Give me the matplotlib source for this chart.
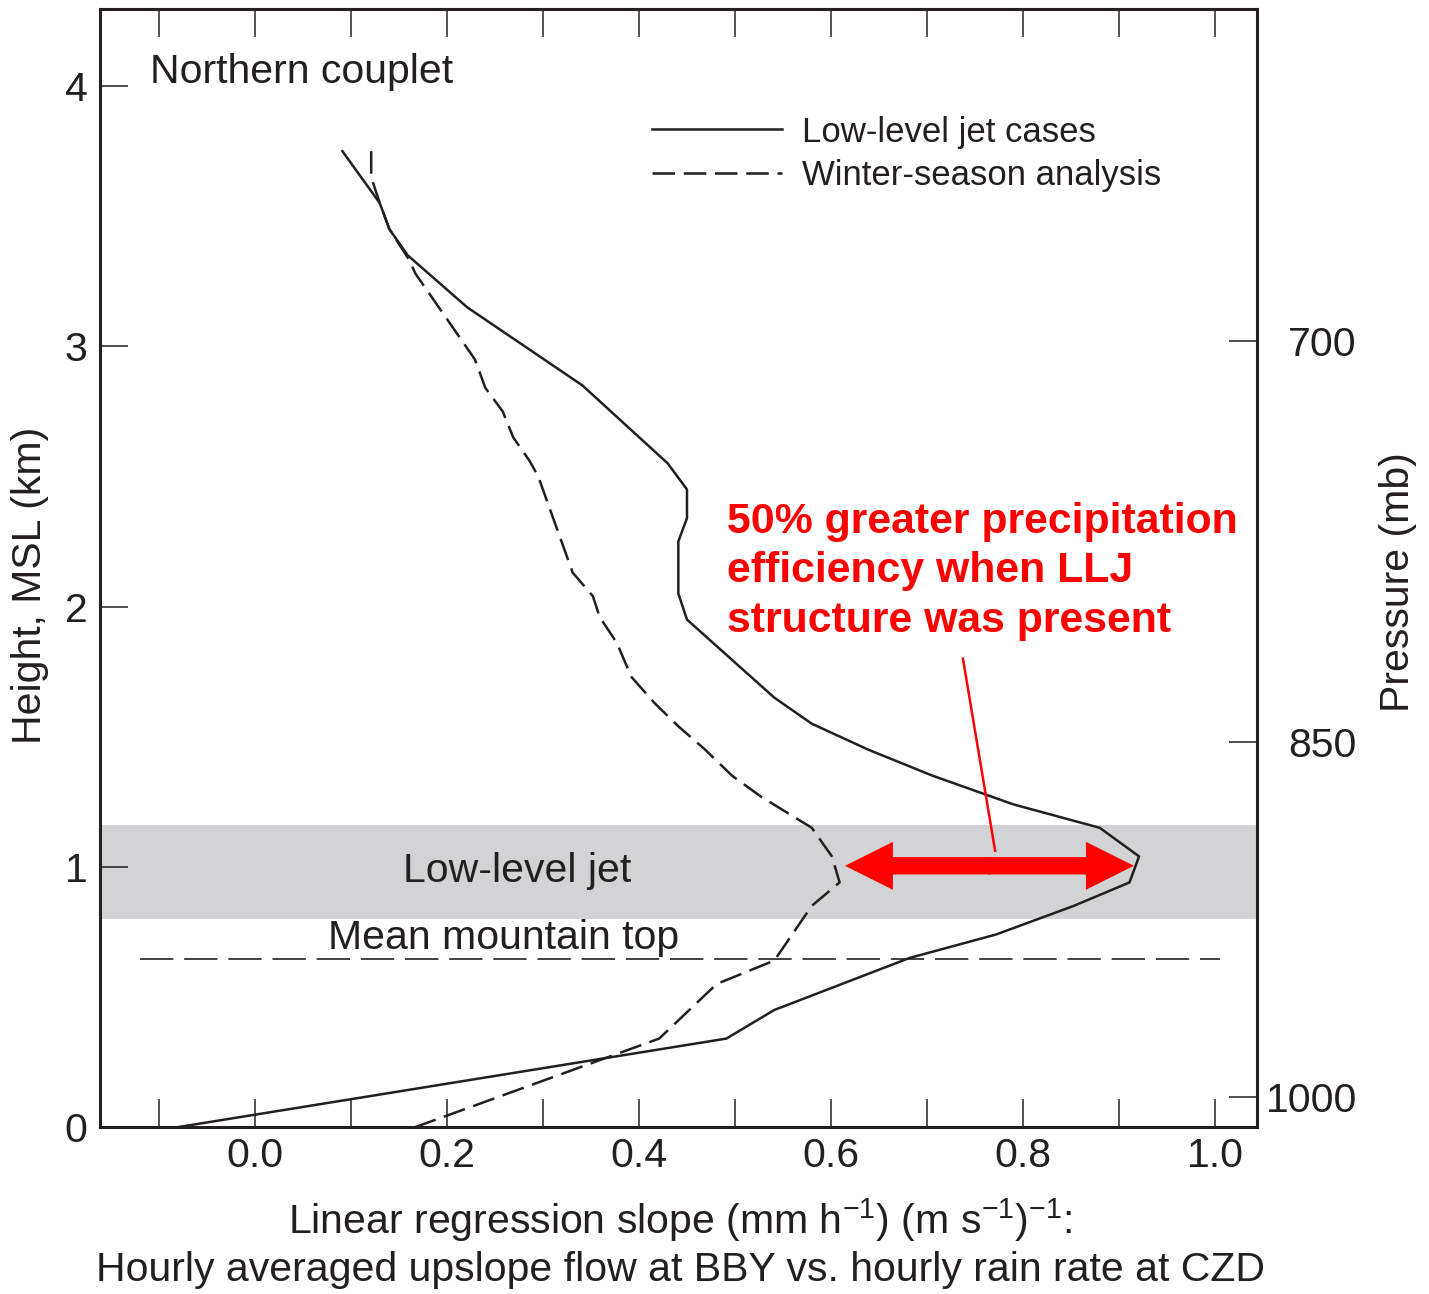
import matplotlib
matplotlib.use("Agg")
import matplotlib.pyplot as plt
from matplotlib.patches import FancyArrowPatch
from matplotlib.ticker import MultipleLocator, FixedLocator

plt.rcParams['font.family'] = ['Liberation Sans', 'DejaVu Sans']
plt.rcParams['mathtext.fontset'] = 'custom'
plt.rcParams['mathtext.rm'] = 'Liberation Sans'
plt.rcParams['mathtext.it'] = 'Liberation Sans:italic'

# low-level jet cases (solid)
llj_slope = [0.091, 0.130, 0.140, 0.159, 0.221, 0.341, 0.430, 0.450, 0.450, 0.441,
             0.441, 0.450, 0.541, 0.580, 0.639, 0.706, 0.790, 0.880, 0.921, 0.911,
             0.853, 0.772, 0.682, 0.541, 0.491, -0.080]
llj_height = [3.75, 3.55, 3.45, 3.35, 3.15, 2.85, 2.55, 2.45, 2.34, 2.25,
              2.05, 1.95, 1.65, 1.55, 1.45, 1.35, 1.24, 1.15, 1.04, 0.94,
              0.85, 0.74, 0.65, 0.45, 0.34, 0.0]

# winter-season analysis (dashed)
win_slope = [0.121, 0.121, 0.130, 0.140, 0.161, 0.167, 0.229, 0.240, 0.258, 0.269,
             0.286, 0.295, 0.331, 0.352, 0.359, 0.377, 0.392, 0.416, 0.441, 0.469,
             0.497, 0.527, 0.580, 0.601, 0.609, 0.580, 0.541, 0.481, 0.421, 0.167]
win_height = [3.75, 3.65, 3.55, 3.45, 3.33, 3.28, 2.95, 2.84, 2.75, 2.65,
              2.56, 2.50, 2.13, 2.04, 1.96, 1.86, 1.73, 1.63, 1.54, 1.45,
              1.35, 1.27, 1.15, 1.04, 0.94, 0.85, 0.64, 0.55, 0.34, 0.0]

jet_bottom, jet_top = 0.80, 1.16
mountain_top = 0.646
pressure_labels = ['700', '850', '1000']
pressure_heights = [3.02, 1.48, 0.115]
xticks_major = [0.0, 0.2, 0.4, 0.6, 0.8, 1.0]
yticks_major = [0, 1, 2, 3, 4]

ink = '#231f20'
fs = 29.5

fig = plt.figure(figsize=(14.29, 12.94), dpi=100)
ax = fig.add_axes([0.070, 0.129, 0.8096, 0.864])
ax.set_xlim(-0.1615, 1.0438)
ax.set_ylim(0, 4.296)

ax.axhspan(jet_bottom, jet_top, color='#d1d3d4', lw=0, zorder=0)
ax.hlines(mountain_top, -0.12, 1.005, color=ink, lw=1.2, linestyles=(0, (20, 6.5)))

ax.plot(llj_slope, llj_height, color=ink, lw=1.8, label='Low-level jet cases')
ax.plot(win_slope, win_height, color=ink, lw=1.8, dashes=(9, 3.5),
        label='Winter-season analysis')

leg = ax.legend(loc='center left', bbox_to_anchor=(0.477, 0.8705), frameon=False,
                fontsize=25, handlelength=3.75, handletextpad=0.58, borderpad=0,
                borderaxespad=0, labelspacing=0.3)
for t in leg.get_texts():
    t.set_color(ink)

# double arrow + pointer line
arrow_y = 1.004
arrow_left, arrow_right = 0.6146, 0.9156
mid = (arrow_left + arrow_right) / 2
for end in (arrow_left, arrow_right):
    ax.add_patch(FancyArrowPatch((mid - 0.01 * (end - mid), arrow_y), (end, arrow_y),
                                 arrowstyle='simple,head_length=3.45,head_width=3.45,tail_width=1.25',
                                 mutation_scale=10, color='red', lw=0, shrinkA=0, shrinkB=0))
ax.plot([0.7375, 0.771], [1.80, 1.062], color='red', lw=1.8)

ax.text(0.4917, 2.135, '50% greater precipitation\nefficiency when LLJ\nstructure was present',
        color='red', fontsize=30.8, fontweight='bold', ha='left', va='center', linespacing=1.3)
ax.text(-0.109, 4.054, 'Northern couplet', fontsize=fs, color=ink, ha='left', va='center')
ax.text(0.273, 0.985, 'Low-level jet', fontsize=fs, color=ink, ha='center', va='center')
ax.text(0.259, 0.727, 'Mean mountain top', fontsize=fs, color=ink, ha='center', va='center')

# axes styling
for s in ax.spines.values():
    s.set_linewidth(2.2)
    s.set_color(ink)
ax.xaxis.set_major_locator(FixedLocator(xticks_major))
ax.xaxis.set_minor_locator(MultipleLocator(0.1))
ax.set_xticklabels(['%.1f' % v for v in xticks_major])
ax.set_yticks(yticks_major)
ax.tick_params(axis='x', which='both', direction='in', length=20, width=1.1, color=ink,
               top=True, labelsize=fs, labelcolor=ink, pad=7)
ax.tick_params(axis='y', which='both', direction='in', length=20, width=1.1, color=ink,
               right=False, labelsize=fs, labelcolor=ink, pad=9)

ax2 = ax.twinx()
ax2.set_ylim(ax.get_ylim())
ax2.set_yticks(pressure_heights)
ax2.set_yticklabels(pressure_labels)
ax2.tick_params(axis='y', direction='in', length=20, width=1.1, color=ink,
                labelsize=fs, labelcolor=ink, pad=72)
for lab in ax2.get_yticklabels():
    lab.set_ha('right')
for s in ax2.spines.values():
    s.set_visible(False)

fig.text(30 / 1429, 1 - 585 / 1294, 'Height, MSL (km)', rotation=90, fontsize=fs,
         color=ink, ha='center', va='center')
fig.text(1398 / 1429, 1 - 582 / 1294, 'Pressure (mb)', rotation=90, fontsize=fs,
         color=ink, ha='center', va='center')
fig.text(680 / 1429, 1 - 1220 / 1294,
         r'Linear regression slope (mm h$^{-1}$) (m s$^{-1}$)$^{-1}$:',
         fontsize=fs, color=ink, ha='center', va='center')
fig.text(681 / 1429, 1 - 1270 / 1294,
         'Hourly averaged upslope flow at BBY vs. hourly rain rate at CZD',
         fontsize=fs, color=ink, ha='center', va='center')

fig.savefig('out.png', dpi=100)
